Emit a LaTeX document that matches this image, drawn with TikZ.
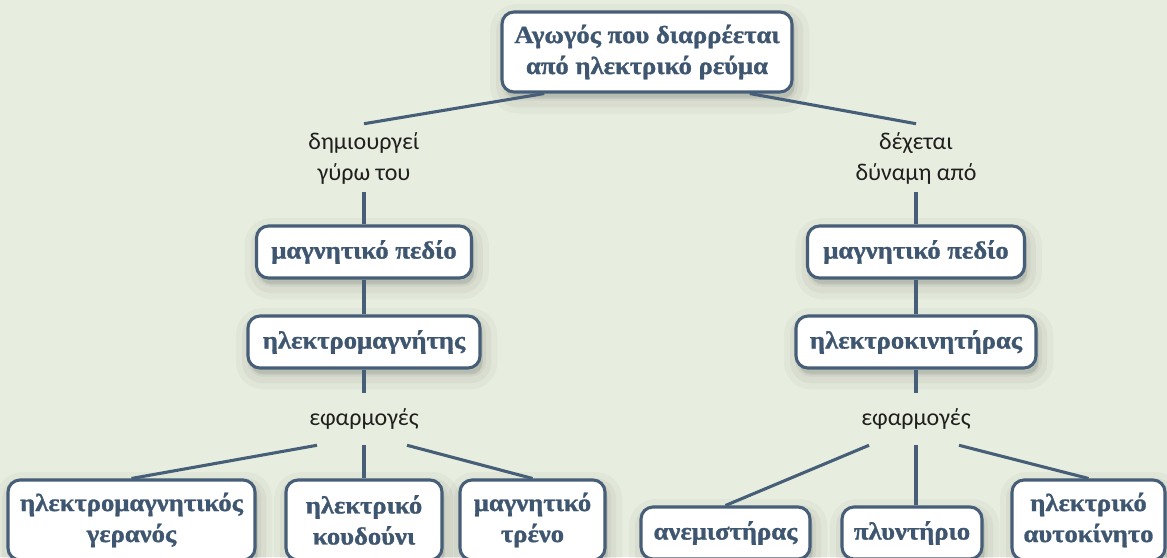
\documentclass[tikz,border=0pt]{standalone}
\usepackage{fontspec}
\setmainfont{Liberation Serif}[FakeStretch=1.08, BoldFeatures={FakeBold=1.2}]
\newfontfamily\labfont{Carlito}
\usetikzlibrary{shadows,calc}
\definecolor{bgc}{HTML}{E8EEDF}
\definecolor{edgec}{HTML}{465E77}
\definecolor{inkc}{HTML}{3E5670}
\begin{document}
\begin{tikzpicture}[x=0.75pt,y=-0.75pt,
  softsh/.style={
    general shadow={fill=black, draw=black, opacity=0.03, line width=22pt, line join=round, shadow xshift=2pt, shadow yshift=-5pt},
    general shadow={fill=black, draw=black, opacity=0.035, line width=13pt, line join=round, shadow xshift=2pt, shadow yshift=-5pt},
    general shadow={fill=black, draw=black, opacity=0.04, line width=5pt, line join=round, shadow xshift=2pt, shadow yshift=-4pt}},
  box/.style={softsh, draw=edgec, line width=2.3pt, fill=white, rounded corners=9pt,
    text=inkc, font=\fontsize{18.5}{23.25}\selectfont\bfseries, align=center, inner sep=0pt},
  lab/.style={font=\labfont\fontsize{18}{23.25}\selectfont, text=black!88, align=center, inner sep=0pt},
  conn/.style={draw=edgec, line width=2.3pt}]
\fill[bgc] (0,0) rectangle (1167,557);
\useasboundingbox (0,0) rectangle (1167,557);

\node[box, minimum width=217.5pt, minimum height=60pt] (top) at (647,52) {Αγωγός που διαρρέεται\\από ηλεκτρικό ρεύμα};

\node[lab, minimum height=51pt] (labL) at (364,158) {δημιουργεί\\γύρω του};
\node[lab, minimum height=51pt] (labR) at (916,158) {δέχεται\\δύναμη από};

\node[box, minimum width=161.25pt, minimum height=39pt] (magL) at (364,252) {μαγνητικό πεδίο};
\node[box, minimum width=162.75pt, minimum height=39pt] (magR) at (916,252) {μαγνητικό πεδίο};

\node[box, minimum width=174pt, minimum height=39pt] (emL) at (364,342) {ηλεκτρομαγνήτης};
\node[box, minimum width=180pt, minimum height=39pt] (emR) at (916,342) {ηλεκτροκινητήρας};

\node[lab, minimum height=39pt] (appL) at (364,419) {εφαρμογές};
\node[lab, minimum height=39pt] (appR) at (916,419) {εφαρμογές};

\node[box, minimum width=185.25pt, minimum height=60pt] (A) at (131.5,520) {ηλεκτρομαγνητικός\\γερανός};
\node[box, minimum width=117pt, minimum height=60pt] (B) at (364,520) {ηλεκτρικό\\κουδούνι};
\node[box, minimum width=108.75pt, minimum height=60pt] (C) at (532.5,520) {μαγνητικό\\τρένο};
\node[box, minimum width=126.75pt, minimum height=39pt] (D) at (725.5,533) {ανεμιστήρας};
\node[box, minimum width=105pt, minimum height=39pt] (E) at (912,533) {πλυντήριο};
\node[box, minimum width=114.75pt, minimum height=60pt] (F) at (1088.5,520) {ηλεκτρικό\\αυτοκίνητο};

\draw[conn] (top.202) -- (labL.north);
\draw[conn] (top.338) -- (labR.north);
\draw[conn] (labL.south) -- (magL.north);
\draw[conn] (labR.south) -- (magR.north);
\draw[conn] (magL.south) -- (emL.north);
\draw[conn] (magR.south) -- (emR.north);
\draw[conn] (emL.south) -- (appL.north);
\draw[conn] (emR.south) -- (appR.north);
\draw[conn] ($(appL.south)+(-47,0)$) -- (A.north);
\draw[conn] (appL.south) -- (B.north);
\draw[conn] ($(appL.south)+(43,0)$) -- (C.north);
\draw[conn] ($(appR.south)+(-47,0)$) -- (D.north);
\draw[conn] (appR.south) -- (appR.south |- E.north);
\draw[conn] ($(appR.south)+(43,0)$) -- (F.north);
\end{tikzpicture}
\end{document}
